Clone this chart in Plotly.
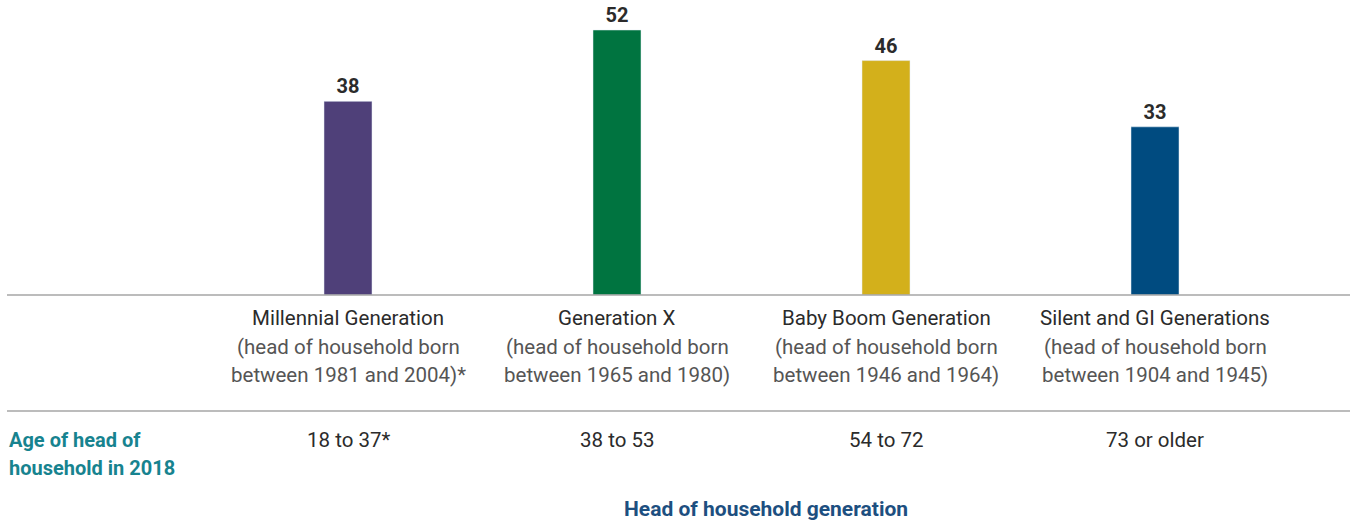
import plotly.graph_objects as go

generations = ["Millennial Generation", "Generation X", "Baby Boom Generation", "Silent and GI Generations"]
born_line1 = ["(head of household born", "(head of household born", "(head of household born", "(head of household born"]
born_line2 = ["between 1981 and 2004)*", "between 1965 and 1980)", "between 1946 and 1964)", "between 1904 and 1945)"]
ages = ["18 to 37*", "38 to 53", "54 to 72", "73 or older"]
values = [38, 52, 46, 33]
colors = ["#4f4079", "#007440", "#d3b01b", "#004b80"]

FONT = "Roboto"
W, H = 1350, 522
base_px = 295
px_per_unit = 265 / 52
x0_px, step_px = 348, 269

xs = list(range(len(values)))
fig = go.Figure(go.Bar(
    x=xs, y=values, marker_color=colors, width=48 / step_px,
    text=[str(v) for v in values], textposition="outside",
    textfont=dict(family=FONT, size=20, color="#2b2b2b", weight="bold"),
    cliponaxis=False, hoverinfo="skip",
))

def py(p):
    return (base_px - p) / base_px

def pxx(p):
    return p / W

ann = []
for i in xs:
    ann.append(dict(x=i, y=py(318), xref="x", yref="paper", text=generations[i], showarrow=False,
                    font=dict(family=FONT, size=20.5, color="#2b2b2b"), yanchor="middle"))
    ann.append(dict(x=i, y=py(347), xref="x", yref="paper", text=born_line1[i], showarrow=False,
                    font=dict(family=FONT, size=20.5, color="#555555"), yanchor="middle"))
    ann.append(dict(x=i, y=py(375), xref="x", yref="paper", text=born_line2[i], showarrow=False,
                    font=dict(family=FONT, size=20.5, color="#555555"), yanchor="middle"))
    ann.append(dict(x=i, y=py(440), xref="x", yref="paper", text=ages[i], showarrow=False,
                    font=dict(family=FONT, size=20.5, color="#2b2b2b"), yanchor="middle"))

ann.append(dict(x=pxx(7), y=py(440), xref="paper", yref="paper", text="<b>Age of head of</b>", showarrow=False,
                font=dict(family=FONT, size=20, color="#17838f"), xanchor="left", yanchor="middle"))
ann.append(dict(x=pxx(7), y=py(468), xref="paper", yref="paper", text="<b>household in 2018</b>", showarrow=False,
                font=dict(family=FONT, size=20, color="#17838f"), xanchor="left", yanchor="middle"))
ann.append(dict(x=pxx(766), y=py(509), xref="paper", yref="paper", text="<b>Head of household generation</b>", showarrow=False,
                font=dict(family=FONT, size=21, color="#1d4f80"), xanchor="center", yanchor="middle"))

shapes = [
    dict(type="line", xref="paper", yref="paper", x0=pxx(7), x1=1, y0=py(295), y1=py(295),
         line=dict(color="#a6a6a6", width=1.5)),
    dict(type="line", xref="paper", yref="paper", x0=pxx(7), x1=1, y0=py(411), y1=py(411),
         line=dict(color="#a6a6a6", width=1.5)),
]

fig.update_layout(
    width=W, height=H,
    margin=dict(l=0, r=0, t=0, b=H - base_px),
    paper_bgcolor="white", plot_bgcolor="white",
    showlegend=False,
    xaxis=dict(range=[-x0_px / step_px, (W - x0_px) / step_px], visible=False, fixedrange=True),
    yaxis=dict(range=[0, base_px / px_per_unit], visible=False, fixedrange=True),
    annotations=ann, shapes=shapes,
)

fig.write_html("out.html", config={"displayModeBar": False, "staticPlot": True},
               post_script="document.body.style.margin='0px';document.body.style.overflow='hidden';")
